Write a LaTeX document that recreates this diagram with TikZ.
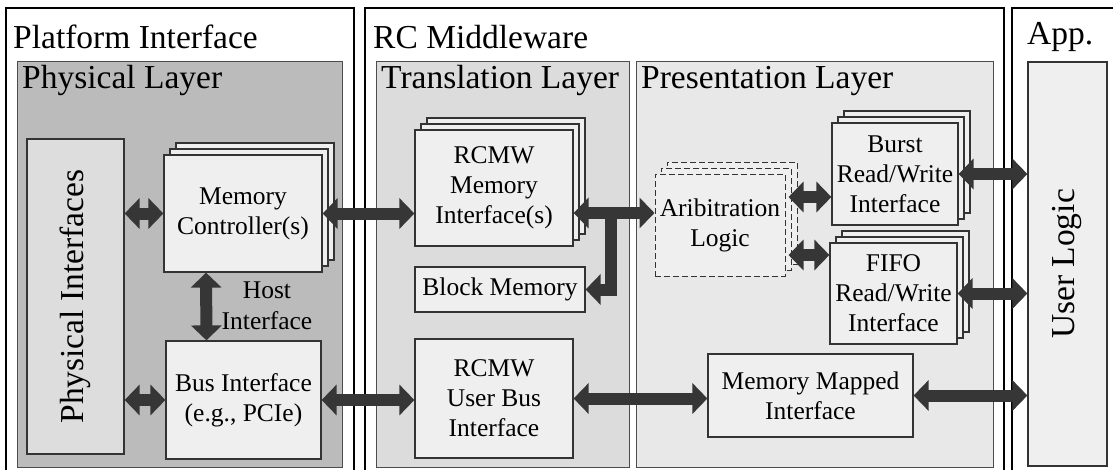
\documentclass[tikz,border=0pt]{standalone}
\usepackage{fontspec}
\setmainfont{Liberation Serif}
\usetikzlibrary{arrows.meta,shadows,positioning}
\definecolor{physgray}{HTML}{BBBBBB}
\definecolor{transgray}{HTML}{DCDCDC}
\definecolor{presgray}{HTML}{E8E8E8}
\definecolor{boxgray}{HTML}{EFEFEF}
\definecolor{pifgray}{HTML}{DDDDDD}
\definecolor{arrgray}{HTML}{363636}
\tikzset{frame/.style={draw=black,line width=1.5pt,fill=white},
  layer/.style={draw=black!70,line width=1pt},
  ttl/.style={anchor=base west,inner sep=0pt,font=\fontsize{33.5}{40}\selectfont},
  blk/.style={draw=black!80,line width=1.2pt,fill=boxgray,align=center,inner sep=0pt,font=\fontsize{25.5}{30}\selectfont},
  stack/.style={blk,double copy shadow={shadow xshift=6pt,shadow yshift=6pt}},
  fat/.style={line width=12pt,draw=arrgray,line join=miter,<->}}

\begin{document}
\begin{tikzpicture}[x=1pt,y=-1pt,>={Triangle[width=30pt,length=15pt]}]
        \clip (0,0) rectangle (1113,469);

        % outer frames
        \draw[frame] (6,8) rectangle (354,490);
        \draw[frame] (365,8) rectangle (1004,490);
        \draw[frame] (1012,8) rectangle (1130,490);
        \node[ttl] (tplat) at (13,48) {Platform Interface};
        \node[ttl] (trcmw) at (373,48) {RC Middleware};
        \node[ttl] (tapp) at (1027,44) {App.};

        % layers
        \draw[layer,fill=physgray] (17,61) rectangle (342,467);
        \draw[layer,fill=transgray] (376,61) rectangle (629,467);
        \draw[layer,fill=presgray] (636,61) rectangle (993,467);
        \node[ttl] (tphys) at (22,88) {Physical Layer};
        \node[ttl] (ttrans) at (381,88) {Translation Layer};
        \node[ttl] (tpres) at (641,88) {Presentation Layer};

        % blocks
        \node[blk,fill=pifgray,rotate=90,minimum width=315pt,minimum height=97pt,font=\fontsize{33.5}{40}\selectfont] (pif) at (75.5,296.5) {Physical Interfaces};
        \node[stack,minimum width=158pt,minimum height=117pt] (mc) at (243,213.5) {Memory\\Controller(s)};
        \node[blk,minimum width=155pt,minimum height=118pt] (bi) at (243.5,400) {Bus Interface\\(e.g., PCIe)};
        \node[align=center,inner sep=0pt,font=\fontsize{25.5}{31}\selectfont] (host) at (267,306) {Host\\Interface};

        \node[stack,minimum width=158pt,minimum height=116pt] (rmi) at (494,188) {RCMW\\Memory\\Interface(s)};
        \node[blk,minimum width=170pt,minimum height=45pt] (bm) at (500,289.5) {Block Memory};
        \node[blk,minimum width=158pt,minimum height=119pt] (rubi) at (494,398.5) {RCMW\\User Bus\\Interface};

        \node[stack,dash pattern=on 6pt off 3pt,line width=1pt,minimum width=130pt,minimum height=102pt] (arb) at (720,225) {Aribitration\\Logic};
        \node[stack,minimum width=126pt,minimum height=102pt] (burst) at (895,174) {Burst\\Read/Write\\Interface};
        \node[stack,minimum width=127pt,minimum height=101pt] (fifo) at (893.5,293.5) {FIFO\\Read/Write\\Interface};
        \node[blk,minimum width=205pt,minimum height=83pt] (mmi) at (810.5,395.5) {Memory Mapped\\Interface};

        \node[blk,rotate=90,minimum width=404pt,minimum height=79pt,font=\fontsize{33.5}{40}\selectfont] (ul) at (1067.5,264) {User Logic};

        % connectors
        \coordinate (jn) at (611,213);
        \draw[fat] (pif.south |- mc.west) -- (mc.west);
        \draw[fat] (pif.south |- bi.west) -- (bi.west);
        \draw[fat] ([xshift=-37pt]mc.south) -- ([xshift=-37pt]bi.north);
        \draw[fat] (mc.east) -- (mc.east -| rmi.west);
        \draw[fat] (bi.east) -- (bi.east -| rubi.west);
        \draw[fat] (rmi.east |- jn) -- (arb.west |- jn);
        \draw[fat,->] (jn) |- (bm.east);
        \draw[fat] ([shift={(3pt,28pt)}]arb.east) -- ([yshift=28pt]arb.east -| burst.west);
        \draw[fat] ([shift={(3pt,-30pt)}]arb.east) -- ([yshift=-30pt]arb.east -| fifo.west);
        \draw[fat] (burst.east) -- (burst.east -| ul.north);
        \draw[fat] (fifo.east) -- (fifo.east -| ul.north);
        \draw[fat] (rubi.east) -- (rubi.east -| mmi.west);
        \draw[fat] (mmi.east) -- (mmi.east -| ul.north);
    \end{tikzpicture}
\end{document}
